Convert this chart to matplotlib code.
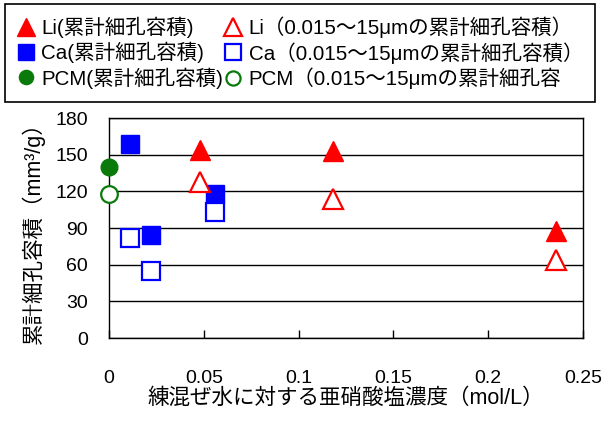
import matplotlib
matplotlib.use('Agg')
import matplotlib.pyplot as plt

plt.rcParams['font.family'] = ['Liberation Sans', 'Noto Sans CJK JP', 'DejaVu Sans']

# data
li_x = [0.048, 0.118, 0.236]
li_total = [154, 153, 88]
li_part = [128, 114, 64]

ca_x = [0.011, 0.022, 0.056]
ca_total = [159, 84, 118]
ca_part = [82, 55, 103]

pcm_x = [0.0]
pcm_total = [140]
pcm_part = [118]

labels_total = ['Li(累計細孔容積)', 'Ca(累計細孔容積)', 'PCM(累計細孔容積)']
labels_part = ['Li（0.015～15μmの累計細孔容積）',
               'Ca（0.015～15μmの累計細孔容積）',
               'PCM（0.015～15μmの累計細孔容']

xticks = [0, 0.05, 0.1, 0.15, 0.2, 0.25]
xticklabels = ['0', '0.05', '0.1', '0.15', '0.2', '0.25']
yticks = [0, 30, 60, 90, 120, 150, 180]

red = '#ff0000'
blue = '#0000ff'
green = '#0a7a0a'

fig = plt.figure(figsize=(6.03, 4.21), dpi=100)
ax = fig.add_axes([0.1808, 0.197, 0.786, 0.5226])

ms = 14
mew = 1.6
h1, = ax.plot(li_x, li_total, '^', color=red, ms=ms + 1, clip_on=False, zorder=3)
h2, = ax.plot(ca_x, ca_total, 's', color=blue, ms=ms - 1, clip_on=False, zorder=3)
h3, = ax.plot(pcm_x, pcm_total, 'o', color=green, ms=ms - 2, clip_on=False, zorder=3)
h4, = ax.plot(li_x, li_part, '^', mfc='white', mec=red, mew=mew, ms=ms + 1, clip_on=False, zorder=3)
h5, = ax.plot(ca_x, ca_part, 's', mfc='white', mec=blue, mew=mew, ms=ms - 1, clip_on=False, zorder=3)
h6, = ax.plot(pcm_x, pcm_part, 'o', mfc='white', mec=green, mew=mew, ms=ms - 2, clip_on=False, zorder=3)

ax.set_xlim(0, 0.25)
ax.set_ylim(0, 180)
ax.set_xticks(xticks)
ax.set_xticklabels(xticklabels)
ax.set_yticks(yticks)
ax.yaxis.grid(True, color='black', lw=1)
ax.set_axisbelow(True)
for s in ax.spines.values():
    s.set_color('black')
    s.set_linewidth(1)

ax.tick_params(axis='x', direction='in', length=6, width=1, pad=23, labelsize=14)
ax.tick_params(axis='y', length=0, pad=15, labelsize=14)

ax.set_xlabel('練混ぜ水に対する亜硝酸塩濃度（mol/L）', fontsize=15.5, labelpad=1)
ax.set_ylabel('累計細孔容積（mm³/g）', fontsize=15.5, labelpad=8)

leg = fig.legend([h1, h2, h3, h4, h5, h6], labels_total + labels_part,
                 ncol=2, loc='upper left', bbox_to_anchor=(5 / 603, 1 - 4 / 421),
                 fancybox=False, edgecolor='black', framealpha=1,
                 fontsize=14.8, handlelength=0.8, handletextpad=0.35,
                 columnspacing=0.1, labelspacing=0.2, borderpad=0.6,
                 borderaxespad=0, markerscale=0.85)
leg.get_frame().set_linewidth(1.2)

fig.savefig('out.png', dpi=100)
